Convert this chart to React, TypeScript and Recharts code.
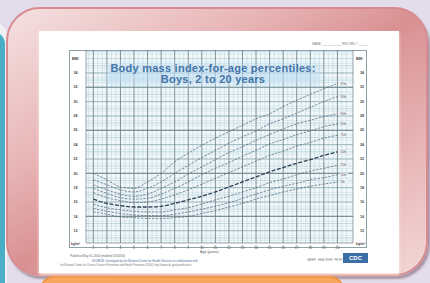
import React from 'react';
import { LineChart, Line, XAxis, YAxis, ReferenceLine } from 'recharts';

// ---------- data ----------
const AGES = [2, 3, 4, 5, 6, 7, 8, 9, 10, 11, 12, 13, 14, 15, 16, 17, 18, 19, 20];
const P97 = [20.0, 19.1, 18.1, 17.9, 18.8, 20.0, 21.6, 22.8, 23.9, 24.9, 25.8, 26.7, 27.6, 28.3, 29.3, 30.2, 31.0, 31.8, 32.5];
const P95 = [19.1, 18.4, 17.7, 17.4, 17.9, 18.8, 20.0, 21.1, 22.2, 23.2, 24.2, 25.1, 25.9, 26.9, 27.6, 28.4, 29.2, 30.0, 30.7];
const P90 = [18.4, 17.7, 17.1, 16.8, 17.1, 17.9, 18.8, 19.9, 20.9, 21.9, 22.9, 23.7, 24.6, 25.4, 26.2, 26.9, 27.4, 27.9, 28.3];
const P85 = [17.9, 17.2, 16.6, 16.4, 16.5, 17.1, 17.9, 18.8, 19.8, 20.7, 21.5, 22.4, 23.2, 24.1, 24.7, 25.4, 25.9, 26.5, 26.9];
const P75 = [17.3, 16.6, 16.2, 15.9, 16.0, 16.4, 17.0, 17.7, 18.5, 19.3, 20.1, 20.9, 21.7, 22.5, 23.1, 23.8, 24.3, 24.9, 25.3];
const P50 = [16.4, 15.8, 15.5, 15.3, 15.3, 15.4, 15.8, 16.3, 16.8, 17.4, 18.1, 18.8, 19.5, 20.2, 20.8, 21.4, 21.9, 22.5, 23.0];
const P25 = [15.7, 15.2, 14.9, 14.7, 14.6, 14.6, 14.9, 15.2, 15.7, 16.3, 16.8, 17.4, 18.0, 18.7, 19.2, 19.8, 20.3, 20.7, 21.1];
const P10 = [15.1, 14.7, 14.4, 14.2, 14.1, 14.1, 14.3, 14.6, 15.0, 15.4, 15.9, 16.5, 17.1, 17.7, 18.2, 18.6, 19.1, 19.4, 19.8];
const P5 = [14.6, 14.3, 13.9, 13.8, 13.7, 13.7, 13.8, 14.0, 14.4, 14.8, 15.3, 15.8, 16.4, 16.9, 17.4, 17.8, 18.2, 18.5, 18.8];

const SERIES_KEYS = ['p97', 'p95', 'p90', 'p85', 'p75', 'p50', 'p25', 'p10', 'p5'];
const SERIES_LABELS = ['97th', '95th', '90th', '85th', '75th', '50th', '25th', '10th', '5th'];
const Y_TICKS = [12, 14, 16, 18, 20, 22, 24, 26, 28, 30, 32, 34];
const Y_DARK = [14, 20, 26, 32];
const X_TICKS = AGES;

const TITLE_1 = 'Body mass index-for-age percentiles:';
const TITLE_2 = 'Boys, 2 to 20 years';

const data = AGES.map((age, i) => ({
  age,
  p97: P97[i], p95: P95[i], p90: P90[i], p85: P85[i], p75: P75[i],
  p50: P50[i], p25: P25[i], p10: P10[i], p5: P5[i],
}));

// grid helper positions (thirds of a year, two-thirds of a BMI unit)
const vMinor: number[] = [];
for (let k = 5; k <= 63; k++) if (k % 3 !== 0) vMinor.push(k / 3);
const hMinor: number[] = [];
for (let k = 16; k <= 55; k++) if (k % 3 !== 0) hMinor.push((k * 2) / 3);
const hMid: number[] = [];
for (let v = 11; v <= 37; v++) hMid.push(v);

const X_DOMAIN: [number, number] = [1.46, 21.15];
const Y_DOMAIN: [number, number] = [10.28, 37.2];

const tiny = { fontFamily: 'Liberation Sans, Arial, sans-serif' };

const XTick = (props: any) => {
  const { x, y, payload } = props;
  return (
    <g>
      <line x1={x} x2={x} y1={y} y2={y + 1.5} stroke="#555" strokeWidth={0.5} />
      <text x={x} y={y + 4.4} fontSize={3.4} textAnchor="middle" fill="#555" style={tiny}>{payload.value}</text>
    </g>
  );
};

const LeftTick = (props: any) => {
  const { x, y, payload } = props;
  return (
    <text x={x - 8.5} y={y + 1.2} fontSize={3.6} textAnchor="middle" fill="#444" fontWeight="bold" style={tiny}>{payload.value}</text>
  );
};
const RightTick = (props: any) => {
  const { x, y, payload } = props;
  return (
    <text x={x + 7} y={y + 1.2} fontSize={3.6} textAnchor="middle" fill="#444" fontWeight="bold" style={tiny}>{payload.value}</text>
  );
};

const endLabel = (name: string) => (props: any) => {
  const { x, y, index } = props;
  if (index !== AGES.length - 1) return <g />;
  return (
    <g>
      <rect x={x + 2.5} y={y - 1.8} width={8} height={3.4} fill="#eef2f4" />
      <text x={x + 3.2} y={y + 1} fontSize={3} fill="#555" style={tiny}>{name}</text>
    </g>
  );
};

export default function App() {
  return (
    <div style={{ position: 'absolute', left: 0, top: 0, width: 430, height: 283, overflow: 'hidden', background: '#e3dcea' }}>
      {/* left side panel */}
      <div style={{ position: 'absolute', left: -30, top: 22, width: 37, height: 300, borderRadius: 14, background: '#f1f1f3' }} />
      <div style={{ position: 'absolute', left: -30, top: 32, width: 34.5, height: 300, borderRadius: 12, background: '#4aafc6' }} />
      {/* pink card */}
      <div style={{
        position: 'absolute', left: 6, top: 7, width: 418, height: 265, borderRadius: 34,
        border: '2px solid #d88a8e',
        background: 'linear-gradient(to bottom right, #f5e1e1 0%, #e8b6b8 30%, #d99193 50%, #e6b1b3 72%, #f3d7d7 100%)',
        boxShadow: '2px 3px 2px rgba(120,90,105,0.55)',
      }} />
      {/* orange card at bottom */}
      <div style={{ position: 'absolute', left: 40, top: 276, width: 300, height: 40, borderRadius: 14, border: '2px solid #f2903d', background: '#f8a85e' }} />
      {/* white chart sheet */}
      <div style={{ position: 'absolute', left: 39, top: 31, width: 360, height: 242, background: '#ffffff', boxShadow: '0 2px 3px rgba(255,240,225,0.9)' }} />

      {/* header tiny text */}
      <div style={{ ...tiny, position: 'absolute', left: 312, top: 41.5, fontSize: 3, color: '#777', whiteSpace: 'nowrap' }}>NAME ____________ RECORD # ______</div>

      {/* plot tint */}
      <div style={{ position: 'absolute', left: 86, top: 50, width: 267, height: 193, background: '#f2f8fa' }} />
      {/* chart frame */}
      <div style={{ position: 'absolute', left: 69, top: 50, width: 298, height: 198, border: '0.6px solid #8da0a6', boxSizing: 'border-box' }} />

      <div style={{ position: 'absolute', left: 69, top: 50 }}>
        <LineChart width={298} height={206} data={data} margin={{ top: 0, right: 0, bottom: 0, left: 0 }}>
          <XAxis dataKey="age" type="number" domain={X_DOMAIN} allowDataOverflow ticks={X_TICKS} height={13}
            tickLine={false} tickSize={0} tick={<XTick />} axisLine={{ stroke: '#6d7f86', strokeWidth: 0.7 }} interval={0} />
          <YAxis yAxisId="l" orientation="left" type="number" domain={Y_DOMAIN} allowDataOverflow ticks={Y_TICKS} width={17}
            tickLine={false} tickSize={0} tick={<LeftTick />} axisLine={{ stroke: '#6d7f86', strokeWidth: 0.7 }} interval={0} />
          <YAxis yAxisId="r" orientation="right" type="number" domain={Y_DOMAIN} allowDataOverflow ticks={Y_TICKS} width={14}
            tickLine={false} tickSize={0} tick={<RightTick />} axisLine={{ stroke: '#6d7f86', strokeWidth: 0.7 }} interval={0} />

          {vMinor.map((v) => (
            <ReferenceLine key={'vm' + v} yAxisId="l" x={v} stroke="#b3d2de" strokeWidth={0.5} />
          ))}
          {hMinor.map((v) => (
            <ReferenceLine key={'hm' + v} yAxisId="l" y={v} stroke="#bcd8e2" strokeWidth={0.45} />
          ))}
          {hMid.map((v) => (
            <ReferenceLine key={'hd' + v} yAxisId="l" y={v} stroke="#9fbec9" strokeWidth={0.5} />
          ))}
          {Y_TICKS.map((v) => (
            <ReferenceLine key={'ht' + v} yAxisId="l" y={v} stroke="#88a4ad" strokeWidth={0.6} />
          ))}
          {Y_DARK.map((v) => (
            <ReferenceLine key={'hk' + v} yAxisId="l" y={v} stroke="#687b82" strokeWidth={0.8} />
          ))}
          {X_TICKS.map((v) => (
            <ReferenceLine key={'vj' + v} yAxisId="l" x={v} stroke="#6a7e85" strokeWidth={0.85} />
          ))}

          {SERIES_KEYS.map((k, i) => (
            <Line key={k} yAxisId="l" dataKey={k} type="monotone" dot={false} isAnimationActive={false}
              stroke={k === 'p50' ? '#2f3f55' : '#4f6076'}
              strokeWidth={k === 'p50' ? 1.3 : 0.7}
              strokeDasharray={k === 'p50' ? '4 1.6' : '2.4 1.3'}
              label={endLabel(SERIES_LABELS[i])} />
          ))}
        </LineChart>
      </div>

      {/* axis header labels */}
      <div style={{ ...tiny, position: 'absolute', left: 72, top: 56.5, fontSize: 3.6, fontWeight: 'bold', color: '#444' }}>BMI</div>
      <div style={{ ...tiny, position: 'absolute', left: 356, top: 56.5, fontSize: 3.6, fontWeight: 'bold', color: '#444' }}>BMI</div>
      <div style={{ ...tiny, position: 'absolute', left: 71, top: 242.2, fontSize: 3.4, fontWeight: 'bold', color: '#444' }}>kg/m²</div>
      <div style={{ ...tiny, position: 'absolute', left: 356, top: 242.2, fontSize: 3.4, fontWeight: 'bold', color: '#444' }}>kg/m²</div>

      {/* title */}
      <div style={{ position: 'absolute', left: 106, top: 64, width: 214, height: 21, background: 'rgba(190,222,243,0.6)', filter: 'blur(3px)' }} />
      <div style={{ position: 'absolute', left: 93, top: 63, width: 240, textAlign: 'center', fontFamily: 'Liberation Sans, Arial, sans-serif', fontWeight: 'bold', fontSize: 11, letterSpacing: 0.25, lineHeight: '10.5px', color: '#4574a8', whiteSpace: 'nowrap' }}>
        <div>{TITLE_1}</div>
        <div>{TITLE_2}</div>
      </div>

      {/* x axis title */}
      <div style={{ ...tiny, position: 'absolute', left: 200, top: 249.5, fontSize: 3.6, color: '#555', whiteSpace: 'nowrap' }}>Age (years)</div>

      {/* footer */}
      <div style={{ ...tiny, position: 'absolute', left: 70, top: 253.5, fontSize: 2.8, color: '#666', whiteSpace: 'nowrap' }}>Published May 30, 2000 (modified 10/16/00).</div>
      <div style={{ ...tiny, position: 'absolute', left: 92, top: 258.5, fontSize: 2.8, color: '#4a6a9a', whiteSpace: 'nowrap' }}>SOURCE: Developed by the National Center for Health Statistics in collaboration with</div>
      <div style={{ ...tiny, position: 'absolute', left: 60, top: 263.5, fontSize: 2.6, color: '#777', whiteSpace: 'nowrap' }}>the National Center for Chronic Disease Prevention and Health Promotion (2000). http://www.cdc.gov/growthcharts</div>
      <div style={{ ...tiny, position: 'absolute', left: 307, top: 259, fontSize: 2.6, color: '#777', whiteSpace: 'nowrap' }}>SAFER · HEALTHIER · PEOPLE</div>
      <div style={{ ...tiny, position: 'absolute', left: 343, top: 253, width: 25, height: 10, background: '#3a6ea5', color: '#fff', fontSize: 6, fontWeight: 'bold', textAlign: 'center', lineHeight: '10px' }}>CDC</div>
    </div>
  );
}
